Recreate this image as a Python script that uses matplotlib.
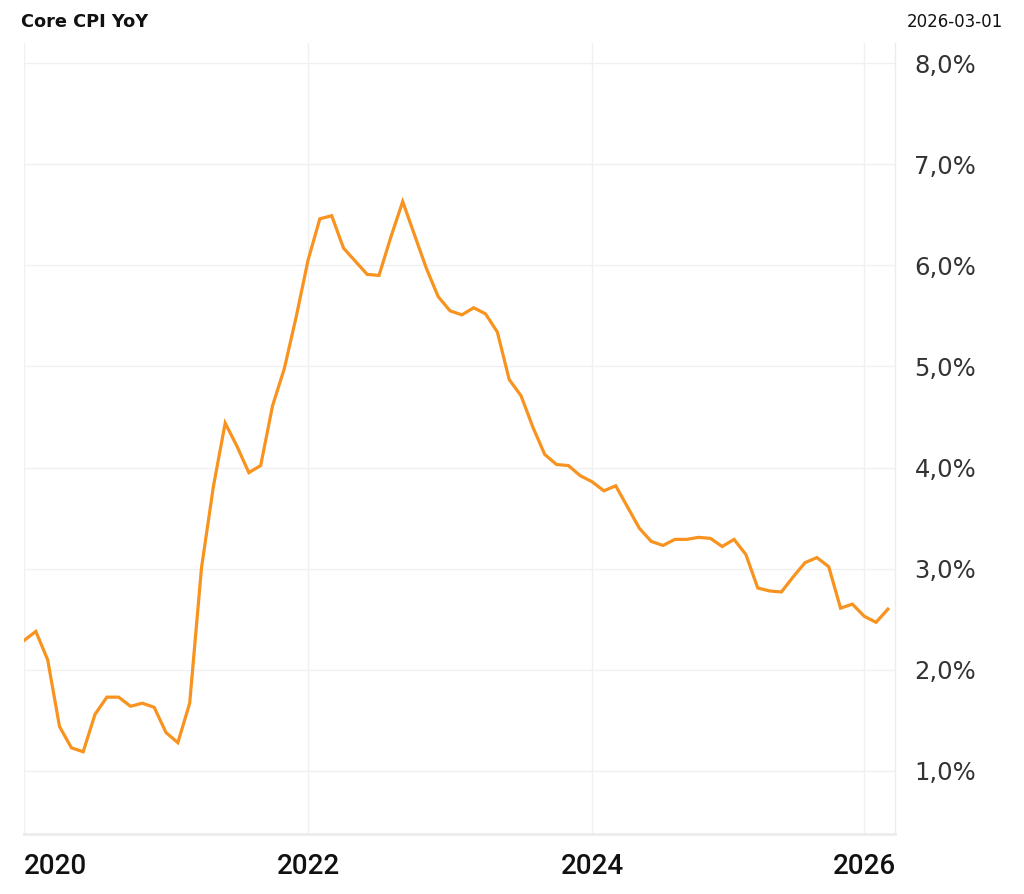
import matplotlib
matplotlib.use("Agg")
import matplotlib.pyplot as plt
from matplotlib.ticker import FixedLocator

# ---- data (monthly, Oct-2025 not published) ----
months = (
    [f"2020-{m:02d}" for m in range(1, 13)]
    + [f"2021-{m:02d}" for m in range(1, 13)]
    + [f"2022-{m:02d}" for m in range(1, 13)]
    + [f"2023-{m:02d}" for m in range(1, 13)]
    + [f"2024-{m:02d}" for m in range(1, 13)]
    + ["2025-01", "2025-02", "2025-03", "2025-04", "2025-05", "2025-06",
       "2025-07", "2025-08", "2025-09", "2025-11", "2025-12"]
    + ["2026-01", "2026-02", "2026-03"]
)
core_cpi_yoy = [
    # 2020
    2.29, 2.38, 2.10, 1.44, 1.23, 1.19, 1.56, 1.73, 1.73, 1.64, 1.67, 1.63,
    # 2021
    1.38, 1.28, 1.67, 3.01, 3.81, 4.44, 4.21, 3.95, 4.02, 4.61, 4.98, 5.49,
    # 2022
    6.05, 6.46, 6.49, 6.17, 6.04, 5.91, 5.90, 6.28, 6.63, 6.30, 5.97, 5.69,
    # 2023
    5.55, 5.51, 5.58, 5.52, 5.34, 4.87, 4.71, 4.40, 4.13, 4.03, 4.02, 3.92,
    # 2024
    3.86, 3.77, 3.82, 3.61, 3.40, 3.27, 3.23, 3.29, 3.29, 3.31, 3.30, 3.22,
    # 2025 (no October)
    3.29, 3.14, 2.81, 2.78, 2.77, 2.92, 3.06, 3.11, 3.02, 2.61, 2.65,
    # 2026
    2.53, 2.47, 2.60,
]
year_ticks = ["2020", "2022", "2024", "2026"]
y_ticks = [1, 2, 3, 4, 5, 6, 7, 8]
title = "Core CPI YoY"
date_label = "2026-03-01"

# ---- figure ----
fig = plt.figure(figsize=(10.24, 8.94), dpi=100)
W, H = 1024, 894
ax = fig.add_axes([24 / W, (H - 834) / H, (895 - 24) / W, (834 - 43) / H])

x = list(range(len(core_cpi_yoy)))
ax.plot(x, core_cpi_yoy, color="#F7931E", lw=2.3, solid_joinstyle="miter",
        zorder=3)

ax.set_xlim(0, 73.6)
ax.set_ylim(0.377, 8.198)

# x ticks at first month of each labelled year
tick_pos = [months.index(f"{y}-01") for y in year_ticks]
ax.xaxis.set_major_locator(FixedLocator(tick_pos))
ax.set_xticklabels(year_ticks)
ax.yaxis.set_major_locator(FixedLocator(y_ticks))
ax.set_yticklabels([f"{v:.1f}%".replace(".", ",") for v in y_ticks])

ax.yaxis.tick_right()
ax.tick_params(axis="y", length=0, pad=14, labelsize=17.5, labelcolor="#333333")
ax.tick_params(axis="x", length=0, pad=14, labelsize=20, labelcolor="#111111")
for lab in ax.get_yticklabels():
    lab.set_fontfamily(["DejaVu Sans"])
    lab.set_fontweight("normal")
for lab in ax.get_xticklabels():
    lab.set_fontfamily(["Roboto", "DejaVu Sans"])
    lab.set_fontweight("medium")
xl = ax.get_xticklabels()
xl[0].set_horizontalalignment("left")

ax.grid(True, color="#f0f0f0", lw=1.0, zorder=0)
for s in ["top", "left"]:
    ax.spines[s].set_visible(False)
ax.spines["bottom"].set_color("#ececec")
ax.spines["bottom"].set_linewidth(2.0)
ax.spines["right"].set_color("#ececec")
ax.spines["right"].set_linewidth(1.0)

fig.text(21 / W, 1 - 22 / H, title, ha="left", va="center", fontsize=12.8,
         fontweight="bold", color="#111111", family=["DejaVu Sans"])
fig.text(1003 / W, 1 - 22 / H, date_label, ha="right", va="center",
         fontsize=12, color="#111111", family=["DejaVu Sans"])

fig.savefig("out.png", dpi=100, facecolor="white")
